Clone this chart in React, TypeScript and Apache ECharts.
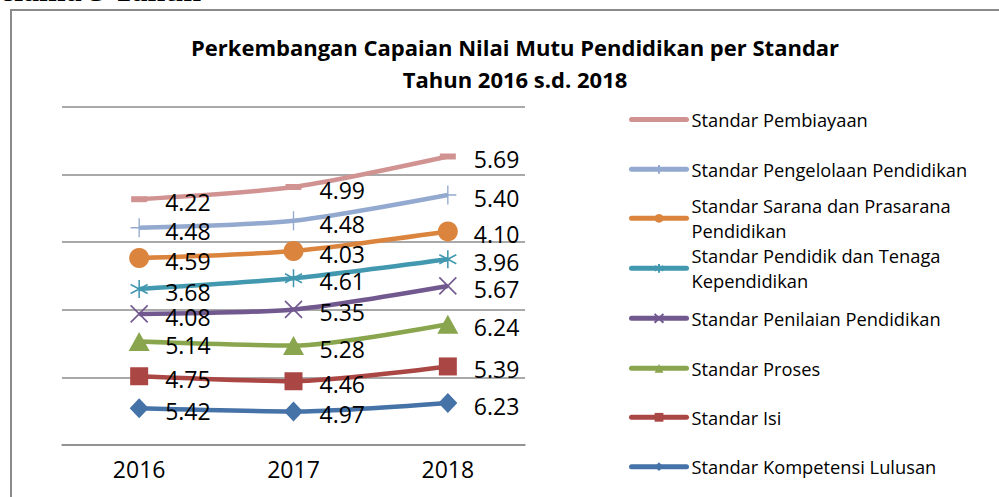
import React, { useEffect, useRef } from "react";
import * as echarts from "echarts";

const categories = ["2016", "2017", "2018"];

const seriesNames = [
  "Standar Kompetensi Lulusan",
  "Standar Isi",
  "Standar Proses",
  "Standar Penilaian Pendidikan",
  "Standar Pendidik dan Tenaga Kependidikan",
  "Standar Sarana dan Prasarana Pendidikan",
  "Standar Pengelolaan Pendidikan",
  "Standar Pembiayaan",
];

const kompetensiLulusan = [5.42, 4.97, 6.23];
const isi = [4.75, 4.46, 5.39];
const proses = [5.14, 5.28, 6.24];
const penilaian = [4.08, 5.35, 5.67];
const pendidik = [3.68, 4.61, 3.96];
const sarana = [4.59, 4.03, 4.1];
const pengelolaan = [4.48, 4.48, 5.4];
const pembiayaan = [4.22, 4.99, 5.69];

const seriesValues = [kompetensiLulusan, isi, proses, penilaian, pendidik, sarana, pengelolaan, pembiayaan];

const legendLabels: Record<string, string> = {
  "Standar Sarana dan Prasarana Pendidikan": "Standar Sarana dan Prasarana\nPendidikan",
  "Standar Pendidik dan Tenaga Kependidikan": "Standar Pendidik dan Tenaga\nKependidikan",
};

const colors = ["#4572A7", "#AA4643", "#89A54E", "#71588F", "#4198AF", "#DB843D", "#93A9CF", "#D19392"];

const symbols: any[] = [
  { symbol: "diamond", size: [19, 20] },
  { symbol: "rect", size: [18, 18] },
  { symbol: "triangle", size: [21, 19] },
  { symbol: "path://M0,0L10,10M10,0L0,10", size: [17, 17], stroke: 1.6 },
  { symbol: "path://M5,0L5,10M0.7,2.5L9.3,7.5M9.3,2.5L0.7,7.5", size: [17, 18], stroke: 1.6 },
  { symbol: "circle", size: 20 },
  { symbol: "path://M5,0L5,10M0,5L10,5", size: [17, 19], stroke: 1.4 },
  { symbol: "rect", size: [16, 6] },
];

const FONT = "'Open Sans', 'Noto Sans', sans-serif";

export default function App() {
  const ref = useRef<HTMLDivElement>(null);

  useEffect(() => {
    if (!ref.current) return;
    const chart = echarts.init(ref.current, undefined, { renderer: "svg" });

    const series = seriesNames.map((name, i) => {
      const s = symbols[i];
      return {
        name,
        type: "line",
        stack: "total",
        data: seriesValues[i],
        smooth: 0.25,
        symbol: s.symbol,
        symbolSize: s.size,
        showAllSymbol: true,
        lineStyle: { color: colors[i], width: 4.5 },
        itemStyle: s.stroke
          ? { color: colors[i], borderColor: colors[i], borderWidth: s.stroke }
          : { color: colors[i], borderWidth: 0 },
        label: {
          show: true,
          position: "inside",
          align: "left",
          verticalAlign: "middle",
          offset: [26, 3],
          color: "#000",
          fontSize: 23,
          fontFamily: FONT,
          formatter: (p: any) => Number(p.value).toFixed(2),
        },
        emphasis: { disabled: true },
        z: 10 - i,
      };
    });

    const iconCenters = [466.7, 417.3, 368.3, 318.3, 268.3, 218.3, 169.3, 119.5];

    const legends = seriesNames.map((name, i) => {
      const twoLine = !!legendLabels[name];
      const noMarker = i === 7;
      return {
        show: true,
        data: [name],
        orient: "vertical",
        left: 629,
        top: twoLine ? iconCenters[i] - 37.5 : iconCenters[i] - 12.5,
        padding: 0,
        itemWidth: 55,
        itemHeight: 11,
        selectedMode: false,
        lineStyle: { width: 5, cap: "round" },
        itemStyle: noMarker ? { opacity: 0 } : {},
        formatter: (n: string) => legendLabels[n] || n,
        textStyle: {
          color: "#000",
          fontSize: 18.3,
          fontFamily: FONT,
          lineHeight: 25,
          padding: twoLine ? [25, 0, 0, 0] : 0,
        },
      };
    });

    const option: any = {
      animation: false,
      backgroundColor: "#fff",
      title: {
        text: "Perkembangan Capaian Nilai Mutu Pendidikan per Standar\nTahun 2016 s.d. 2018",
        left: 510,
        textAlign: "center",
        top: 26,
        textStyle: {
          fontFamily: FONT,
          fontWeight: "bold",
          fontSize: 22,
          lineHeight: 32,
          color: "#000",
        },
      },
      legend: legends,
      grid: { left: 62, right: 474, top: 107, bottom: 52, containLabel: false },
      xAxis: {
        type: "category",
        data: categories,
        boundaryGap: true,
        axisLine: { show: true, lineStyle: { color: "#8c8c8c", width: 1.6 } },
        axisTick: { show: false },
        axisLabel: { color: "#000", fontSize: 23, fontFamily: FONT, margin: 12 },
      },
      yAxis: {
        type: "value",
        min: 0,
        max: 50,
        interval: 10,
        axisLabel: { show: false },
        axisLine: { show: false },
        axisTick: { show: false },
        splitLine: { show: true, lineStyle: { color: "#8c8c8c", width: 1.6 } },
      },
      graphic: [
        {
          type: "text",
          left: 0,
          top: -26,
          style: {
            text: "elama 5 Tahun",
            font: "bold 32px 'Liberation Serif', serif",
            fill: "#000",
          },
        },
        {
          type: "rect",
          shape: { x: 11, y: 10, width: 1100, height: 600 },
          style: { fill: "none", stroke: "#8a8a8a", lineWidth: 2 },
          silent: true,
          z: -1,
        },
      ],
      series,
    };

    chart.setOption(option);
    return () => chart.dispose();
  }, []);

  return (
    <div
      ref={ref}
      style={{ position: "fixed", left: 0, top: 0, width: 999, height: 497, background: "#fff" }}
    />
  );
}
